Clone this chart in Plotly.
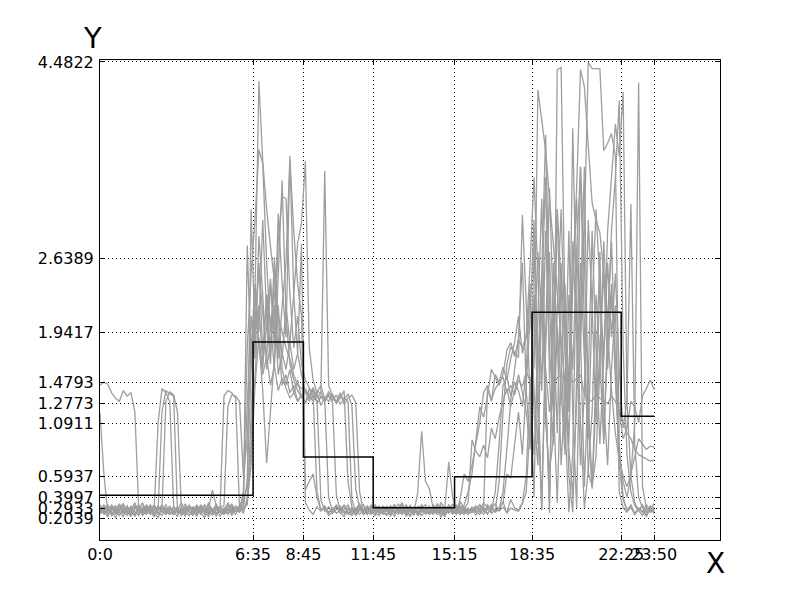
import plotly.graph_objects as go

# time grid (minutes after midnight, every 10 min)
minutes = list(range(0, 1440, 10))

x_tick_vals = [0, 395, 525, 705, 915, 1115, 1345, 1430]
x_tick_text = ["0:0", "6:35", "8:45", "11:45", "15:15", "18:35", "22:25", "23:50"]
y_tick_vals = [0.2039, 0.2933, 0.3997, 0.5937, 1.0911, 1.2773, 1.4793, 1.9417, 2.6389, 4.4822]
y_tick_text = ["0.2039", "0.2933", "0.3997", "0.5937", "1.0911", "1.2773", "1.4793", "1.9417", "2.6389", "4.4822"]

# black step profile (segment starts and levels)
step_x = [0, 395, 525, 705, 915, 1115, 1345, 1430]
step_y = [0.42, 1.856, 0.778, 0.303, 0.593, 2.135, 1.16, 1.16]

# grey daily profiles, 12 values per 2-hour row
day1 = [1.45,1.48,1.46,1.38,1.33,1.30,1.40,1.35,1.38,1.20,0.28,0.25,
        0.31,0.27,0.22,0.29,0.33,0.26,0.24,0.30,0.28,0.35,0.27,0.23,
        0.29,0.32,0.25,0.21,0.30,0.27,0.34,0.26,0.28,0.24,0.31,0.27,
        0.30,0.33,2.76,1.62,2.15,1.85,1.55,1.72,1.45,1.63,1.40,1.52,
        1.42,1.33,1.38,1.30,1.36,1.29,1.35,1.41,1.28,1.34,1.30,1.37,
        1.31,1.36,1.27,1.33,1.30,0.38,0.26,0.31,0.24,0.29,0.27,0.32,
        0.25,0.30,0.28,0.22,0.33,0.27,0.24,0.31,0.26,0.29,0.23,0.30,
        0.27,0.32,0.25,0.29,0.21,0.30,0.26,0.34,0.28,0.24,0.31,0.27,
        0.29,0.23,0.30,0.31,1.42,1.31,1.42,1.47,1.53,1.38,1.45,1.36,
        1.50,1.44,1.58,1.49,1.62,4.22,3.95,3.65,3.20,2.75,2.30,1.90,
        1.45,0.85,0.42,1.30,2.60,1.70,0.95,2.20,3.10,2.40,1.30,0.70,
        1.60,2.20,0.45,0.30,0.26,0.31,0.24,0.29,0.27,0.22,0.30,0.26]

day2 = [1.19,0.62,0.26,0.30,0.24,0.29,0.33,0.27,0.22,0.31,0.28,0.25,
        0.28,0.33,0.25,0.21,0.30,0.26,0.32,0.24,0.29,0.27,0.34,0.26,
        0.23,0.30,0.27,0.33,0.25,0.29,0.22,0.31,0.26,0.35,0.28,0.24,
        0.31,0.27,0.36,0.90,2.30,4.30,3.55,3.10,2.75,2.40,2.10,1.95,
        1.80,1.70,1.55,1.45,1.42,1.40,1.36,1.43,1.33,1.38,1.31,1.35,
        1.29,0.42,0.27,0.32,0.25,0.30,0.23,0.28,0.33,0.26,0.24,0.31,
        0.28,0.24,0.31,0.27,0.22,0.30,0.35,0.26,0.29,0.23,0.32,0.27,
        0.30,0.25,0.28,0.33,0.26,0.22,0.31,0.27,0.24,0.36,0.29,0.25,
        0.26,0.31,0.28,0.24,0.33,0.29,0.27,0.55,1.20,1.65,1.81,1.76,
        1.71,3.05,2.20,1.35,0.80,1.60,2.40,1.10,0.65,0.95,4.41,4.43,
        2.10,1.20,2.80,1.90,0.70,1.40,3.00,2.20,1.10,1.80,2.50,1.60,
        2.30,1.70,1.20,0.95,1.05,1.30,1.25,1.10,1.35,1.42,1.50,1.41]

day3 = [0.24,0.29,0.33,0.26,0.21,0.28,0.31,0.25,0.30,0.27,0.23,0.32,
        0.27,0.25,0.30,1.10,1.42,1.38,1.30,0.32,0.26,0.29,0.24,0.31,
        0.28,0.22,0.31,0.26,0.33,0.29,0.24,0.27,0.30,0.25,0.32,0.28,
        0.26,0.38,0.50,3.10,1.90,2.60,1.75,2.30,2.05,1.60,2.45,3.37,
        2.10,1.65,1.50,1.40,1.34,1.42,1.30,1.36,0.45,0.28,0.31,0.25,
        0.29,0.33,0.26,0.22,0.30,0.27,0.24,0.31,0.28,0.25,0.33,0.27,
        0.31,0.26,0.23,0.29,0.27,0.34,0.25,0.30,0.22,0.28,0.26,0.32,
        0.24,0.29,0.31,0.26,0.28,0.23,0.30,0.27,0.33,0.25,0.29,0.35,
        0.94,0.83,0.78,0.89,0.77,1.05,0.95,1.15,1.30,1.42,1.25,1.40,
        1.55,1.38,1.20,0.85,2.80,1.50,0.30,1.90,3.30,2.10,1.00,2.60,
        1.70,0.90,2.40,3.20,1.80,2.90,4.48,4.42,4.42,4.42,3.65,3.72,
        3.81,3.60,0.90,0.40,0.28,0.33,0.25,0.30,0.27,0.23,0.29,0.34]

day4 = [0.30,0.26,0.22,0.31,0.28,0.34,0.25,0.29,0.27,0.23,0.32,0.26,
        0.29,0.24,0.31,0.28,1.20,1.40,1.37,1.35,0.27,0.30,0.25,0.33,
        0.26,0.31,0.28,0.24,0.35,0.27,0.30,0.22,0.29,0.33,0.26,0.28,
        0.27,0.45,1.80,2.50,3.00,3.66,3.53,2.60,1.95,2.35,1.70,2.20,
        2.60,3.57,2.90,2.40,2.10,0.35,0.28,0.24,0.31,0.27,0.30,0.23,
        0.26,0.32,0.28,0.25,0.30,0.23,0.29,0.34,0.26,0.31,0.27,0.24,
        0.30,0.27,0.24,0.29,0.33,0.26,0.31,0.22,0.28,0.25,0.45,1.02,
        0.55,0.48,0.29,0.26,0.31,0.24,0.28,0.33,0.27,0.30,0.25,0.29,
        0.26,0.31,0.28,0.35,0.30,0.27,0.45,0.90,1.45,1.53,1.35,1.48,
        1.40,1.25,1.60,2.40,1.20,0.70,2.30,3.40,1.50,0.90,2.00,1.40,
        0.80,1.60,2.50,3.30,4.41,4.25,3.70,3.16,3.00,2.88,2.50,1.90,
        1.40,1.00,0.75,0.60,0.50,0.62,0.80,0.95,0.90,0.85,0.88,0.87]

day5 = [0.27,0.33,0.29,0.24,0.30,0.26,0.22,0.31,0.28,0.35,0.25,0.29,
        0.32,0.26,0.28,0.24,0.30,1.30,1.39,1.36,1.20,0.29,0.27,0.23,
        0.30,0.25,0.33,0.27,0.22,0.29,0.31,0.26,0.24,0.28,0.34,0.27,
        0.29,0.25,0.40,0.85,1.50,2.20,1.65,2.00,2.45,1.80,3.06,2.40,
        1.90,3.60,2.30,1.75,1.55,1.38,1.33,1.40,1.29,1.35,1.32,1.39,
        1.34,1.28,1.36,1.31,1.37,1.26,0.48,0.30,0.25,0.28,0.32,0.26,
        0.23,0.29,0.27,0.32,0.25,0.30,0.28,0.24,0.33,0.27,0.31,0.26,
        0.29,0.25,0.31,0.27,0.35,0.30,0.73,0.40,0.28,0.24,0.30,0.27,
        0.30,0.26,0.33,0.28,0.24,0.31,0.27,0.29,0.36,0.25,0.30,0.28,
        0.27,0.34,0.45,1.10,2.30,1.20,0.28,1.80,2.70,1.30,0.35,1.60,
        2.40,1.30,3.86,2.10,1.10,0.30,0.65,1.20,2.30,1.70,0.90,2.00,
        2.80,1.60,0.70,0.38,0.27,0.31,0.24,0.29,0.26,0.33,0.28,0.25]

day6 = [0.25,0.31,0.27,0.33,0.28,0.23,0.30,0.26,0.32,0.24,0.29,0.35,
        0.26,0.30,0.23,0.28,0.32,0.25,0.29,0.27,0.22,0.31,0.26,0.30,
        0.28,0.24,0.30,0.27,0.33,0.26,0.29,0.31,1.35,1.40,1.38,1.33,
        0.30,0.42,1.20,2.10,1.70,2.85,2.30,1.60,1.85,2.20,1.55,1.75,
        1.60,1.85,2.30,2.78,2.97,3.55,1.80,1.50,1.38,1.45,1.32,0.40,
        0.27,0.31,0.25,0.29,0.33,0.26,0.30,0.24,0.28,0.32,0.27,0.23,
        0.29,0.26,0.32,0.25,0.30,0.28,0.34,0.27,0.23,0.31,0.26,0.29,
        0.26,0.31,0.28,0.24,0.30,0.27,0.33,0.29,0.25,0.40,0.62,0.55,
        0.70,0.90,1.10,1.38,1.45,1.30,1.55,1.48,1.62,1.50,1.70,1.85,
        2.10,1.75,1.90,2.60,3.40,2.50,1.40,2.90,1.80,1.20,2.20,3.10,
        1.90,0.60,0.26,1.50,3.50,2.60,1.30,0.50,0.78,1.60,2.80,2.00,
        2.90,3.40,4.12,1.80,0.80,0.45,0.32,0.27,0.23,0.30,0.26,0.31]

day7 = [0.31,0.24,0.28,0.30,0.26,0.33,0.27,0.23,0.29,0.32,0.25,0.28,
        0.24,0.29,0.33,0.26,0.23,0.30,0.27,0.31,0.25,0.28,0.22,0.32,
        0.27,0.33,0.26,0.30,0.24,0.28,0.25,0.31,0.32,1.25,1.36,1.35,
        1.30,0.60,0.95,1.80,2.40,1.95,3.00,2.10,1.65,2.55,1.90,1.45,
        1.55,1.38,1.45,1.30,1.36,1.28,1.42,1.33,1.40,1.37,3.46,1.45,
        1.35,1.30,1.38,1.27,1.33,1.36,1.29,0.45,0.27,0.30,0.25,0.29,
        0.32,0.27,0.24,0.30,0.26,0.29,0.33,0.25,0.28,0.31,0.23,0.27,
        0.30,0.26,0.33,0.28,0.24,0.31,0.27,0.29,0.25,0.32,0.28,0.26,
        0.31,0.27,0.24,0.30,0.28,0.33,0.26,0.29,0.45,0.85,1.30,1.60,
        1.90,2.60,1.40,0.90,1.85,2.70,2.10,1.60,1.20,1.45,1.52,1.55,
        1.50,1.53,1.48,1.52,1.55,1.36,1.32,1.30,1.36,1.33,1.30,1.28,
        1.35,1.30,1.20,1.10,1.00,0.95,0.85,0.80,0.78,0.76,0.74,0.75]

day8 = [0.29,0.26,0.31,0.23,0.27,0.30,0.34,0.25,0.28,0.22,0.30,0.27,
        0.33,0.28,0.25,0.30,0.27,0.24,0.31,0.26,0.29,0.23,0.28,0.32,
        0.26,0.29,0.24,0.30,0.28,0.47,0.32,0.27,0.25,0.30,0.23,0.29,
        0.32,0.28,0.35,0.70,1.45,1.90,1.60,2.30,1.75,2.65,2.10,1.70,
        2.20,1.85,1.60,1.75,2.78,0.47,0.55,0.62,0.40,0.28,0.32,0.26,
        0.30,0.25,0.28,0.33,0.26,0.23,0.29,0.31,0.27,0.24,0.30,0.28,
        0.26,0.32,0.29,0.24,0.30,0.27,0.25,0.33,0.28,0.31,0.26,0.23,
        0.28,0.30,0.26,0.34,0.29,0.25,0.31,0.24,0.30,0.27,0.33,0.45,
        0.62,0.95,1.25,1.15,1.35,1.60,1.52,1.45,1.55,1.78,1.85,1.72,
        1.88,1.80,1.92,2.30,1.40,0.90,2.50,3.80,2.20,1.30,3.10,2.40,
        1.10,0.26,0.80,2.70,1.90,0.50,1.50,2.90,1.80,0.90,1.70,2.60,
        1.90,2.50,1.60,1.05,1.30,3.15,0.90,0.40,0.30,0.26,0.32,0.27]

day9 = [0.26,0.30,0.24,0.28,0.32,0.27,0.25,0.31,0.23,0.29,0.33,0.26,
        0.30,0.25,0.28,0.32,0.26,0.29,0.24,0.27,0.31,0.25,0.30,0.28,
        0.24,0.28,0.32,0.26,0.29,0.23,0.30,0.27,0.25,0.33,0.28,0.31,
        0.27,0.31,0.55,1.60,2.30,1.85,1.40,0.72,1.20,1.75,2.20,1.60,
        1.45,1.60,1.38,1.50,1.33,1.41,1.36,1.30,1.38,1.26,1.34,1.30,
        1.37,1.29,1.33,1.40,0.55,0.31,0.26,0.29,0.24,0.30,0.27,0.33,
        0.28,0.25,0.30,0.27,0.33,0.24,0.29,0.26,0.31,0.28,0.25,0.30,
        0.33,0.27,0.24,0.30,0.26,0.29,0.32,0.25,0.28,0.31,0.27,0.24,
        0.28,0.32,0.26,0.30,0.25,0.29,0.34,0.27,0.31,0.26,0.38,0.30,
        0.28,0.35,0.60,1.50,0.40,2.10,3.20,1.40,0.25,2.60,1.90,0.70,
        1.40,2.90,1.20,0.30,2.20,3.50,1.10,0.48,1.60,2.70,0.95,1.80,
        2.40,1.50,0.80,0.55,0.40,0.60,1.10,4.29,0.50,0.30,0.26,0.29]

day10 = [0.33,0.28,0.26,0.31,0.25,0.29,0.27,0.32,0.24,0.30,0.28,0.23,
         0.27,0.31,0.29,0.25,0.28,0.33,0.26,0.24,0.30,0.27,0.31,0.29,
         0.31,0.26,0.29,0.33,0.27,0.24,0.28,0.30,0.26,0.29,0.25,0.32,
         0.28,0.30,0.33,1.20,2.00,2.55,2.10,1.70,2.40,1.95,2.80,3.22,
         3.20,2.30,1.80,2.10,1.65,1.50,1.43,1.35,1.30,0.38,0.27,0.31,
         0.25,0.29,0.32,0.27,0.24,0.30,0.26,0.33,0.28,0.25,0.31,0.27,
         0.30,0.26,0.28,0.32,0.25,0.29,0.27,0.24,0.31,0.26,0.29,0.33,
         0.27,0.24,0.30,0.26,0.32,0.28,0.25,0.29,0.31,0.27,0.24,0.30,
         0.26,0.29,0.33,0.27,0.31,0.25,0.28,0.30,0.35,0.62,0.58,0.90,
         1.20,0.80,1.50,2.10,3.00,1.60,2.40,1.40,0.35,2.00,3.10,1.70,
         0.90,2.30,1.60,2.70,3.50,2.00,0.64,0.50,1.30,2.40,1.70,2.90,
         3.40,3.90,3.60,4.20,1.30,0.60,0.35,0.28,0.33,0.25,0.30,0.27]

days = [day1, day2, day3, day4, day5, day6, day7, day8, day9, day10]

fig = go.Figure()
for d in days:
    n = min(len(d), len(minutes))
    fig.add_trace(go.Scatter(x=minutes[:n], y=d[:n], mode="lines",
                             line=dict(color="#9e9e9e", width=1.3),
                             hoverinfo="skip", showlegend=False))

fig.add_trace(go.Scatter(x=step_x, y=step_y, mode="lines",
                         line=dict(color="black", width=1.5, shape="hv"),
                         showlegend=False))

font = dict(family="DejaVu Sans", size=16, color="black")
axis_common = dict(
    showline=True, linecolor="black", linewidth=1, mirror="ticks",
    ticks="inside", ticklen=5, tickcolor="black", tickwidth=1,
    showgrid=True, gridcolor="black", gridwidth=1, griddash="1px,3px",
    zeroline=False, tickfont=font,
)

# the page body adds an 8px offset; margins compensate so the plot box
# sits at x 100-720, y 60-540 in the window
fig.update_layout(
    width=800, height=600,
    margin=dict(l=92, r=88, t=52, b=68),
    plot_bgcolor="white", paper_bgcolor="white",
    font=font, showlegend=False,
    xaxis=dict(range=[0, 1600], tickmode="array", tickvals=x_tick_vals,
               ticktext=x_tick_text, tickangle=0, **axis_common),
    yaxis=dict(range=[0, 4.5], tickmode="array", tickvals=y_tick_vals,
               ticktext=y_tick_text, ticklabelstandoff=2, **axis_common),
    annotations=[
        dict(text="Y", xref="paper", yref="paper", x=-0.0129, y=1.046,
             xanchor="center", yanchor="middle", showarrow=False,
             font=dict(family="DejaVu Sans", size=29, color="black")),
        dict(text="X", xref="paper", yref="paper", x=0.9935, y=-0.048,
             xanchor="center", yanchor="middle", showarrow=False,
             font=dict(family="DejaVu Sans", size=28, color="black")),
    ],
)

fig.write_html("out.html")
